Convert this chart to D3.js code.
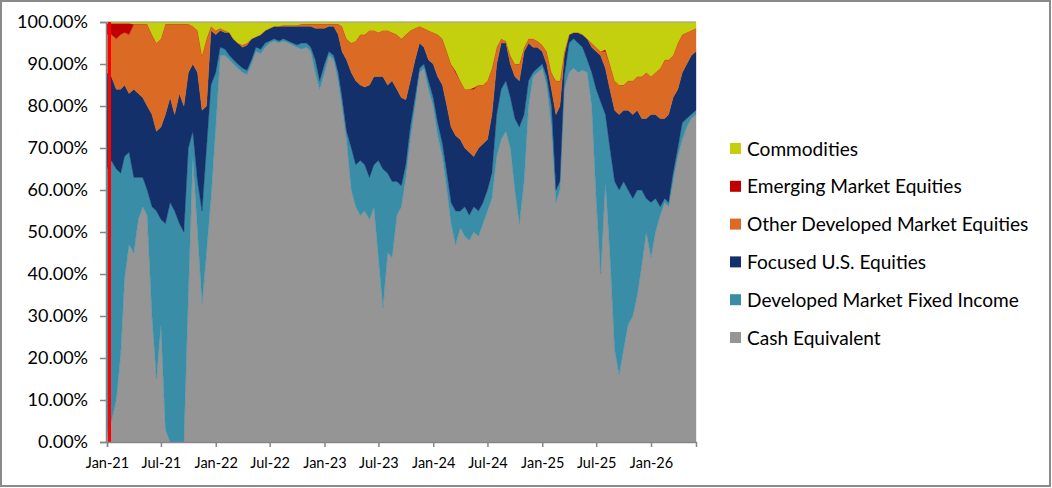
<!DOCTYPE html>
<html>
<head>
<meta charset="utf-8">
<script src="https://cdn.jsdelivr.net/npm/d3@7"></script>
<style>
  body { margin: 0; background: #fff; }
  svg { display: block; font-family: Lato, "Open Sans", sans-serif; }
</style>
</head>
<body>
<svg id="chart" width="1052" height="488"></svg>
<script>
// semi-monthly observations, 1 Jan 2021 .. 1 Jun 2026
const dates = d3.range(131).map(i => new Date(2021, Math.floor(i / 2), i % 2 ? 16 : 1))

const seriesNames = ['Cash Equivalent', 'Developed Market Fixed Income', 'Focused U.S. Equities',
  'Other Developed Market Equities', 'Emerging Market Equities', 'Commodities']
const seriesColors = ['#959595', '#3a8da6', '#13306b', '#da6a24', '#c00000', '#c4cf0e']

const cash = [2,5,10,21,39,47,45,53,56,54, 30,15,28,3,0,0,0,0,35,68,
  50,33,45,58,75,92,92,91,90,89, 88,87.5,90,93,92.5,94,95,95.5,95,95.5,
  95,94.5,94,93.5,94,93,88,84,88,92, 91,86,80,72,60,56,54,55,53,56,
  44,32,45,44,54,56,63,72,80,88, 89,84,80,73,68,60,52,47,51,49,
  48,50,49,52,55,58,68,72,74,70, 60,52,62,80,87,88,89,85,75,57,
  60,84,88,89,88,88.5,88,80,58,40, 62,45,22,16,22,28,30,35,42,50,
  44,50,54,57,56,62,68,72,75,77,78]
const fixedIncome = [63,62,55,43,29,22,18,10,7,6, 26,40,25,49,57,55,52,50,35,6,
  12,22,25,27,13,2,1.5,1,1,1, 1,1,1,1,1,1,0.5,0.5,0.5,0.5,
  0.5,0.5,0.5,1.5,1,1,3,2,2,1, 1,2,2,2,10,10,13,11,10,10,
  23,33,19,18,8,5,3,3,2,1, 1,2,2,3,3,4,5,8,4,7,
  6,6,6,5,5,6,10,12,12,12, 17,23,16,6,1,1,1,2,5,3,
  2,3,7,7,7,5.5,3,8,26,41, 16,25,40,44,40,32,28,25,18,8,
  13,8,2,1,1,2,2,4,2,1,1]
const usEquities = [23,20,19,20,17,14,21,20,19,20, 22,19,22,26,25,23,31,30,18,16,
  26,24,10,13,9,4,4,5.5,5,5, 5,6,5,2.5,3.5,3,3,3,3.5,3,
  3.5,4,4.5,4,4,5,7.5,12.5,8.5,6, 7,9,11,17,18,20,18,18.5,22,21,
  20,22,21,24,22,21,15.5,11,9,6, 4,5,8,11,14,16,18,18,17,14,
  15,12,15,14,12,14,12,11,9,8, 10,11,15,9,6,5,3,3,4,18,
  18,5,2,1.5,2.5,3,5,6,9,11, 11,14,17,18,17,19,20,19,17,19,
  21,20,21,19,21,18,14,12,13,14,14]
const otherDeveloped = [9,10,12,13,12.5,14,15.5,16.5,17.5,19.5, 19,21,21,21.5,17.5,21.5,16.5,19.5,11.5,9,
  10,13,16,1,1,0.5,0.5,0,0,0, 0.5,0.5,0,0,0,0,0,0,0,0.2,
  0.2,0.2,0.2,0.5,0.5,0.5,1,1,1,0.5, 0.5,2.5,6,5,7,9.5,12,12.5,13,11,
  10.5,11,13,11.5,13,14,15.5,12,7.5,4, 4.5,7,7.5,10,11,13,15,15,14,14,
  15,16,15,14,14,11,4,1,0.5,2, 3,4,1,1,2,1.5,1.5,3,4,8,
  6,1,0,0,0,0,0,1,1,1, 4,6,7,7,6,7,8,8,10,11,
  9,10,12,14,13,10,11,9,7.5,6,5.5]
const emerging = [2.7,2.7,3.7,2.7,2.2,2.7,0,0,0,0, 0,0,0,0,0,0,0,0,0,0,
  0,0,0,0,0,0,0,0,0,0, 0,0,0,0,0,0,0,0,0,0,
  0,0,0,0,0,0,0,0,0,0, 0,0,0,0,0,0,0,0,0,0,
  0,0,0,0,0,0,0,0,0,0, 0,0,0,0,0,0,0,0.4,0,0,
  0,0.4,0,0,0,0,0,0,0,0, 0,0,0,0,0,0,0,0,0,0,
  0,0,0,0,0,0,0,0,0,0, 0.5,0,0,0,0,0,0,0,0,0,
  0,0,0,0,0,0,0,0,0,0,0]
const commodities = [0.3,0.3,0.3,0.3,0.3,0.3,0.5,0.5,0.5,0.5, 3,5,4,0.5,0.5,0.5,0.5,0.5,0.5,1,
  2,8,4,1,2,1.5,2,2.5,4,5, 5.5,5,4,3.5,3,2,1.5,1,1,0.8,
  0.8,0.8,0.8,0.5,0.5,0.5,0.5,0.5,0.5,0.5, 0.5,0.5,1,4,5,4.5,3,3,2,2,
  2.5,2,2,2.5,3,4,3,2,1.5,1, 1.5,2,2.5,3,4,7,10,11.6,14,16,
  16,15.6,15,15,14,11,6,4,4.5,8, 10,10,6,4,4,4.5,5.5,7,12,14,
  14,7,3,2.5,2.5,3,4,5,6,7, 6.5,10,14,15,15,14,14,13,13,12,
  13,12,11,9,9,8,5,3,2.5,2,1.5]

const xTicks = d3.range(11).map(i => new Date(2021, i * 6, 1))
const yTicks = d3.range(0, 1.01, 0.1)

const width = 1052
const height = 488
const plot = { left: 107, right: 696, top: 22, bottom: 442 }

const svg = d3.select('#chart')

// outer frame
svg.append('rect')
  .attr('x', 1).attr('y', 1)
  .attr('width', width - 3).attr('height', height - 3)
  .attr('fill', '#fff')
  .attr('stroke', '#8a8a8a')
  .attr('stroke-width', 2)

const rows = dates.map((d, i) => ({
  date: d,
  s0: cash[i], s1: fixedIncome[i], s2: usEquities[i],
  s3: otherDeveloped[i], s4: emerging[i], s5: commodities[i]
}))
const keys = ['s0', 's1', 's2', 's3', 's4', 's5']

const stacked = d3.stack().keys(keys).offset(d3.stackOffsetExpand)(rows)

const x = d3.scaleTime().domain(d3.extent(dates)).range([plot.left, plot.right])
const y = d3.scaleLinear().domain([0, 1]).range([plot.bottom, plot.top])

const area = d3.area()
  .x(d => x(d.data.date))
  .y0(d => y(d[0]))
  .y1(d => y(d[1]))

svg.append('g')
  .selectAll('path')
  .data(stacked)
  .enter()
  .append('path')
  .attr('d', area)
  .attr('fill', (d, i) => seriesColors[i])
  .attr('stroke', (d, i) => seriesColors[i])
  .attr('stroke-width', 0.4)

// thin top edge of the plot
svg.append('line')
  .attr('x1', plot.left).attr('x2', plot.right)
  .attr('y1', y(1)).attr('y2', y(1))
  .attr('stroke', '#9a9a9a')
  .attr('stroke-width', 1)

// red start marker
svg.append('line')
  .attr('x1', x(dates[0]) + 2.5).attr('x2', x(dates[0]) + 2.5)
  .attr('y1', y(1)).attr('y2', y(0))
  .attr('stroke', '#ff0000')
  .attr('stroke-width', 3)

const yAxis = svg.append('g')
  .attr('transform', `translate(${plot.left - 1},0)`)
  .call(d3.axisLeft(y).tickValues(yTicks).tickFormat(d3.format('.2%')).tickSizeOuter(0).tickSize(6).tickPadding(12))
yAxis.selectAll('text').attr('font-size', 18).attr('fill', '#000').attr('font-family', 'Lato')

const xAxis = svg.append('g')
  .attr('transform', `translate(0,${plot.bottom})`)
  .call(d3.axisBottom(x).tickValues(xTicks).tickFormat(d3.timeFormat('%b-%y')).tickSizeOuter(0).tickSize(5).tickPadding(11))
xAxis.selectAll('text').attr('font-size', 14.5).attr('fill', '#000').attr('font-family', 'Lato')

svg.selectAll('.domain, .tick line').attr('stroke', '#868686').attr('stroke-width', 1.5)

// legend, top entry is the top of the stack
const legend = svg.append('g')
  .selectAll('g')
  .data(d3.range(6).reverse())
  .enter()
  .append('g')
  .attr('transform', (d, i) => `translate(730,${149 + i * 37.8})`)

legend.append('rect')
  .attr('x', 0).attr('y', -6)
  .attr('width', 11).attr('height', 11)
  .attr('fill', d => seriesColors[d])

legend.append('text')
  .attr('x', 17)
  .attr('dy', '0.35em')
  .attr('font-size', 19.1)
  .attr('fill', '#000')
  .text(d => seriesNames[d])
</script>
</body>
</html>
